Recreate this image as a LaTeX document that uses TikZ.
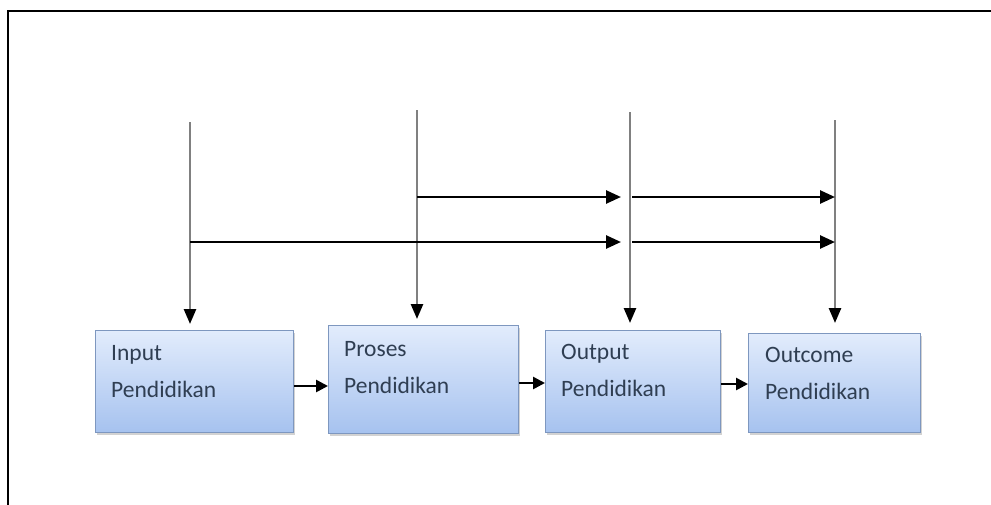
\documentclass[tikz,border=0pt]{standalone}
\usepackage{fontspec}
\setmainfont{Carlito}
\usetikzlibrary{arrows.meta,shadows}
\definecolor{boxtop}{HTML}{E2ECFC}
\definecolor{boxbot}{HTML}{A6C2EF}
\definecolor{boxline}{HTML}{7E97BF}
\definecolor{txt}{HTML}{2F3E52}
\definecolor{vline}{HTML}{808080}
\tikzset{
  pbox/.style={draw=boxline, line width=0.8pt, top color=boxtop, bottom color=boxbot,
    rectangle, inner sep=0pt, anchor=north west,
    drop shadow={shadow xshift=2pt, shadow yshift=-3pt, opacity=0.35, fill=gray}},
  ptext/.style={anchor=north west, inner sep=0pt, align=left, text=txt,
    font=\fontsize{23.5}{37}\selectfont},
  vconn/.style={draw=vline, line width=2.6pt, -{Triangle[length=15pt,width=12pt,color=black]}},
  hconn/.style={draw=black, line width=2.6pt, -{Triangle[length=15pt,width=13pt]}},
  bconn/.style={draw=black, line width=2.6pt, -{Triangle[length=12pt,width=12pt]}}
}
\begin{document}
\begin{tikzpicture}[x=1pt,y=-1pt]
\useasboundingbox (0,0) rectangle (991,504);
\fill[white] (0,0) rectangle (991,504);
\draw[line width=2.2pt] (8,520) -- (8,11) -- (1000,11);

% boxes
\node[pbox, minimum width=198pt, minimum height=102pt] (b1) at (95,330) {};
\node[pbox, minimum width=190pt, minimum height=108pt] (b2) at (328,325) {};
\node[pbox, minimum width=175pt, minimum height=102pt] (b3) at (545,330) {};
\node[pbox, minimum width=172pt, minimum height=99pt] (b4) at (748,333) {};

\node[ptext] (t1) at (111,345) {Input\\Pendidikan};
\node[ptext] (t2) at (344,341) {Proses\\Pendidikan};
\node[ptext] (t3) at (561,344) {Output\\Pendidikan};
\node[ptext] (t4) at (765,347) {Outcome\\Pendidikan};

% vertical line tops
\coordinate (v1) at (190,122);
\coordinate (v2) at (417,110);
\coordinate (v3) at (630,112);
\coordinate (v4) at (835,120);

\draw[vconn] (v1) -- (190,324);
\draw[vconn] (v2) -- (417,319);
\draw[vconn] (v3) -- (630,323);
\draw[vconn] (v4) -- (835,323);

% horizontal arrows
\coordinate (h1a) at (417,197);
\coordinate (h1b) at (621,197);
\coordinate (h1c) at (632,197);
\coordinate (h1d) at (835,197);
\coordinate (h2a) at (190,242);
\coordinate (h2b) at (621,242);
\coordinate (h2c) at (632,242);
\coordinate (h2d) at (835,242);
\draw[hconn] (h1a) -- (h1b);
\draw[hconn] (h1c) -- (h1d);
\draw[hconn] (h2a) -- (h2b);
\draw[hconn] (h2c) -- (h2d);

% box-to-box arrows
\draw[bconn] (b1.east |- 0,386) -- (b2.west |- 0,386);
\draw[bconn] (b2.east |- 0,383) -- (b3.west |- 0,383);
\draw[bconn] (b3.east |- 0,384) -- (b4.west |- 0,384);
\end{tikzpicture}
\end{document}
